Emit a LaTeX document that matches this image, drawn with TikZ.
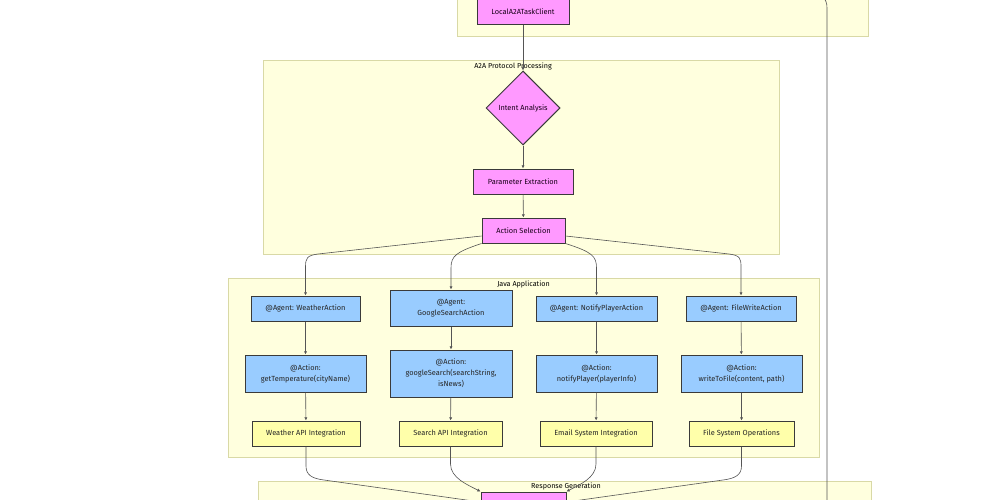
\documentclass[tikz,border=0pt]{standalone}
\usepackage{fontspec}
\setmainfont{Fira Sans}
\usetikzlibrary{shapes.geometric,arrows.meta}
\definecolor{clfill}{HTML}{FFFFDE}
\definecolor{clline}{HTML}{D9D9A6}
\definecolor{pinkfill}{HTML}{FF99FF}
\definecolor{bluefill}{HTML}{99CCFF}
\definecolor{yelfill}{HTML}{FFFFAA}
\definecolor{nodeline}{HTML}{3A3A3A}
\definecolor{edgecol}{HTML}{555555}
\tikzset{
  cluster/.style={draw=clline, fill=clfill, line width=0.9pt},
  cllabel/.style={font=\fontsize{7.2}{9}\selectfont, text=black, inner sep=0pt},
  base/.style={draw=nodeline, line width=1pt, inner sep=0pt, align=center,
    font=\fontsize{7.4}{11}\selectfont, text=black!85},
  pinkbox/.style={base, fill=pinkfill, text=black!80!violet},
  bluebox/.style={base, fill=bluefill},
  yelbox/.style={base, fill=yelfill},
  edge/.style={draw=edgecol, line width=0.6pt, -{Latex[length=3.2pt,width=3.2pt]}},
  plainedge/.style={draw=edgecol, line width=0.6pt},
}
\begin{document}
\begin{tikzpicture}[x=1pt,y=-1pt]
\useasboundingbox (0,0) rectangle (1000,500);
\clip (0,0) rectangle (1000,500);
\fill[white] (0,0) rectangle (1000,500);
% clusters
\draw[cluster] (457,-50) rectangle (868,36);
\draw[cluster] (263,60) rectangle (779,254);
\node[cllabel] (lblA2A) at (513,66) {A2A Protocol Processing};
\draw[cluster] (228,278) rectangle (819,457);
\node[cllabel] (lblJava) at (523.5,284) {Java Application};
\draw[cluster] (258,481) rectangle (871,560);
\node[cllabel] (lblResp) at (566,486.5) {Response Generation};
% nodes
\node[pinkbox, minimum width=92pt, minimum height=27pt] (client) at (523,11.5) {LocalA2ATaskClient};
\node[pinkbox, diamond, aspect=1, minimum width=74pt, minimum height=74pt] (intent) at (523,108) {Intent Analysis};
\node[pinkbox, minimum width=100pt, minimum height=25pt] (param) at (523,181.5) {Parameter Extraction};
\node[pinkbox, minimum width=83pt, minimum height=25pt] (actsel) at (523.5,230.5) {Action Selection};

\node[bluebox, minimum width=109pt, minimum height=25pt] (agW) at (305.5,308.5) {@Agent: WeatherAction};
\node[bluebox, minimum width=122pt, minimum height=36pt] (agG) at (451,308) {@Agent:\\GoogleSearchAction};
\node[bluebox, minimum width=121pt, minimum height=25pt] (agN) at (596.5,308.5) {@Agent: NotifyPlayerAction};
\node[bluebox, minimum width=110pt, minimum height=25pt] (agF) at (741,308.5) {@Agent: FileWriteAction};

\node[bluebox, minimum width=121pt, minimum height=37pt] (acW) at (305.5,373.5) {@Action:\\getTemperature(cityName)};
\node[bluebox, minimum width=122pt, minimum height=47pt] (acG) at (451,373.5) {@Action:\\googleSearch(searchString,\\isNews)};
\node[bluebox, minimum width=121pt, minimum height=37pt] (acN) at (596.5,373.5) {@Action:\\notifyPlayer(playerInfo)};
\node[bluebox, minimum width=121pt, minimum height=37pt] (acF) at (741.5,373.5) {@Action:\\writeToFile(content, path)};

\node[yelbox, minimum width=108pt, minimum height=25pt] (inW) at (306,433.5) {Weather API Integration};
\node[yelbox, minimum width=103pt, minimum height=25pt] (inG) at (450.5,433.5) {Search API Integration};
\node[yelbox, minimum width=112pt, minimum height=25pt] (inN) at (596,433.5) {Email System Integration};
\node[yelbox, minimum width=105pt, minimum height=25pt] (inF) at (741.5,433.5) {File System Operations};

\node[pinkbox, minimum width=85pt, minimum height=27pt] (resp) at (523.5,505.5) {};

% edges
\draw[edge] (client) -- (intent);
\draw[edge] (intent) -- (param);
\draw[edge] (param) -- (actsel);

\coordinate (cw1) at (318,254);
\draw[edge] ([yshift=-5.5pt]actsel.west) -- (cw1) .. controls (307,255.5) and (305.5,258) .. (305.5,267) -- (agW.north);
\draw[edge] (actsel.south west) .. controls (456,252) and (451,256) .. (451,268) -- (agG.north);
\draw[edge] (actsel.south east) .. controls (592,252) and (596.5,256) .. (596.5,268) -- (agN.north);
\coordinate (cf1) at (729,254);
\draw[edge] ([yshift=-5.5pt]actsel.east) -- (cf1) .. controls (740,255.5) and (741,258) .. (741,267) -- (agF.north);

\draw[edge] (agW) -- (acW);
\draw[edge] (agG) -- (acG);
\draw[edge] (agN) -- (acN);
\draw[edge] (agF) -- (acF);
\draw[edge] (acW) -- (inW);
\draw[edge] (acG) -- (inG);
\draw[edge] (acN) -- (inN);
\draw[edge] (acF) -- (inF);

\coordinate (bw1) at (306,466);
\coordinate (bw2) at (324,480);
\draw[edge] (inW.south) -- (bw1) .. controls (306,475) and (312,478.5) .. (bw2) -- ([yshift=3.5pt]resp.west);
\draw[edge] (inG.south) -- (450.5,464) .. controls (450.5,478) and (468,485) .. (resp.north west);
\draw[edge] (inN.south) -- (596,464) .. controls (596,478) and (579,485) .. (resp.north east);
\coordinate (bf1) at (741.5,466);
\coordinate (bf2) at (723,480);
\draw[edge] (inF.south) -- (bf1) .. controls (741.5,475) and (735,478.5) .. (bf2) -- ([yshift=3.5pt]resp.east);

% long edge on the right
\coordinate (ext1) at (805,-12);
\coordinate (ext2) at (827,540);
\draw[plainedge] (ext1) .. controls (822,-6) and (827,-2) .. (827,8) -- (ext2);
\end{tikzpicture}
\end{document}
